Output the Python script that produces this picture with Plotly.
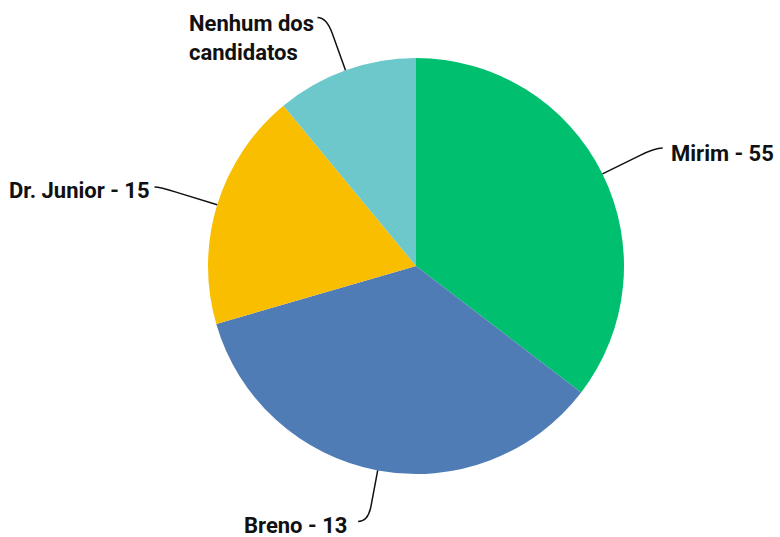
import math
import plotly.graph_objects as go

# ---- data ----
candidates = ["Mirim - 55", "Breno - 13", "Dr. Junior - 15", "Nenhum dos<br>candidatos"]
shares = [35.4, 35.1, 18.5, 11.0]
colors = ["#00BF6F", "#507CB6", "#F9BE00", "#6CC8CB"]

# ---- style (leader lines / label placement) ----
elbow_factor = [1.28, 1.25, 1.29, 1.27]
elbow_len = [8, 10, 5, 9]
label_gap = [7, 10, 4, 3]
label_dy = [5, 4, 3.5, 21]

W, H = 780, 537
cx, cy, R = 416, 266, 208

fig = go.Figure()
fig.add_trace(go.Pie(
    labels=candidates, values=shares, sort=False, direction="clockwise",
    rotation=0, marker=dict(colors=colors, line=dict(width=0)),
    textinfo="none", hoverinfo="label+percent", showlegend=False,
    domain=dict(x=[(cx - R) / W, (cx + R) / W],
                y=[(H - cy - R) / H, (H - cy + R) / H]),
))

total = sum(shares)
cum = 0.0
shapes = []
annotations = []
font = dict(family="Roboto", size=22, color="#111111")
for i, v in enumerate(shares):
    mid = (cum + v / 2) / total * 2 * math.pi
    cum += v
    sx, sy = math.sin(mid), -math.cos(mid)
    p0 = (cx + R * sx, cy + R * sy)
    re = R * elbow_factor[i]
    pe = (cx + re * sx, cy + re * sy)
    pa = (p0[0] + 0.7 * (pe[0] - p0[0]), p0[1] + 0.7 * (pe[1] - p0[1]))
    side = 1 if sx >= 0 else -1
    pend = (pe[0] + side * elbow_len[i], pe[1])
    path = (f"M {p0[0]:.1f},{p0[1]:.1f} L {pa[0]:.1f},{pa[1]:.1f} "
            f"Q {pe[0]:.1f},{pe[1]:.1f} {pend[0]:.1f},{pend[1]:.1f}")
    shapes.append(dict(type="path", path=path, xref="x", yref="y",
                       line=dict(color="#111111", width=1.5)))
    annotations.append(dict(x=pend[0] + side * label_gap[i], y=pend[1] + label_dy[i],
                            xref="x", yref="y", text=f"<b>{candidates[i]}</b>",
                            showarrow=False, xanchor="left" if side > 0 else "right",
                            yanchor="middle", align="left", font=font, borderpad=0))

fig.update_layout(
    width=W, height=H, margin=dict(l=0, r=0, t=0, b=0),
    paper_bgcolor="white", plot_bgcolor="rgba(0,0,0,0)",
    xaxis=dict(range=[0, W], visible=False, fixedrange=True),
    yaxis=dict(range=[H, 0], visible=False, fixedrange=True),
    shapes=shapes, annotations=annotations,
)
fig.write_html("out.html", config={"displayModeBar": False},
               post_script="document.body.style.margin='0';document.body.style.overflow='hidden';")
